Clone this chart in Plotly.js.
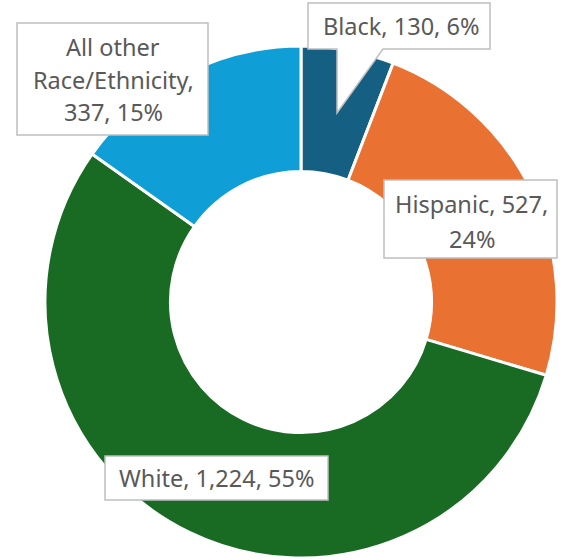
<!DOCTYPE html>
<html>
<head>
<meta charset="utf-8">
<script src="https://cdn.plot.ly/plotly-3.0.1.min.js"></script>
<style>html,body{margin:0;padding:0;background:#fff;}#chart{width:564px;height:560px;}</style>
</head>
<body>
<div id="chart"></div>
<script>
// Data
var categories = ["Black", "Hispanic", "White", "All other Race/Ethnicity"];
var counts = [130, 527, 1224, 337];
var percentLabels = ["6%", "24%", "55%", "15%"];
var countLabels = ["130", "527", "1,224", "337"];
var sliceColors = ["#156082", "#E97132", "#196B24", "#0F9ED5"];

var W = 564, H = 560;
function px(x) { return x / W; }
function py(y) { return 1 - y / H; }

var font = {family: "Noto Sans, sans-serif", size: 23.5, color: "#595959"};
var boxLine = {color: "#BFBFBF", width: 1.5};

function ann(text, x, y) {
  return {text: text, x: px(x), y: py(y), xref: "paper", yref: "paper",
          xanchor: "center", yanchor: "middle", showarrow: false, font: font};
}
function rect(x0, y0, x1, y1) {
  return {type: "rect", xref: "paper", yref: "paper", x0: px(x0), x1: px(x1),
          y0: py(y1), y1: py(y0), fillcolor: "#FFFFFF", line: boxLine, layer: "above"};
}

var cx = 301, cy = 302, r = 256;

var trace = {
  type: "pie",
  labels: categories,
  values: counts,
  sort: false,
  direction: "clockwise",
  rotation: 0,
  hole: 0.51,
  textinfo: "none",
  hoverinfo: "none",
  marker: {colors: sliceColors, line: {color: "#FFFFFF", width: 3}},
  domain: {x: [px(cx - r), px(cx + r)], y: [py(cy + r), py(cy - r)]},
  showlegend: false
};

// Callout for Black (box + pointer)
var blackPath = "M" + px(308) + "," + py(3) + " L" + px(490) + "," + py(3) +
  " L" + px(490) + "," + py(49) + " L" + px(383) + "," + py(49) +
  " L" + px(337) + "," + py(113) + " L" + px(337) + "," + py(49) +
  " L" + px(308) + "," + py(49) + " Z";

var shapes = [
  {type: "path", xref: "paper", yref: "paper", path: blackPath, fillcolor: "#FFFFFF", line: boxLine, layer: "above"},
  rect(17, 23, 208, 135),
  rect(384, 180, 557, 258),
  rect(105, 456, 328, 500)
];

var otherWords = categories[3].split(" ");
var annotations = [
  ann(categories[0] + ", " + countLabels[0] + ", " + percentLabels[0], 401, 26),
  ann(otherWords[0] + " " + otherWords[1], 113, 47),
  ann(otherWords[2] + ",", 113, 80),
  ann(countLabels[3] + ", " + percentLabels[3], 113, 112),
  ann(categories[1] + ", " + countLabels[1] + ",", 471, 204),
  ann(percentLabels[1], 472, 239),
  ann(categories[2] + ", " + countLabels[2] + ", " + percentLabels[2], 216, 478)
];

var layout = {
  width: W, height: H,
  margin: {l: 0, r: 0, t: 0, b: 0},
  paper_bgcolor: "#FFFFFF",
  shapes: shapes,
  annotations: annotations
};

Plotly.newPlot("chart", [trace], layout, {displayModeBar: false, staticPlot: true});
</script>
</body>
</html>
